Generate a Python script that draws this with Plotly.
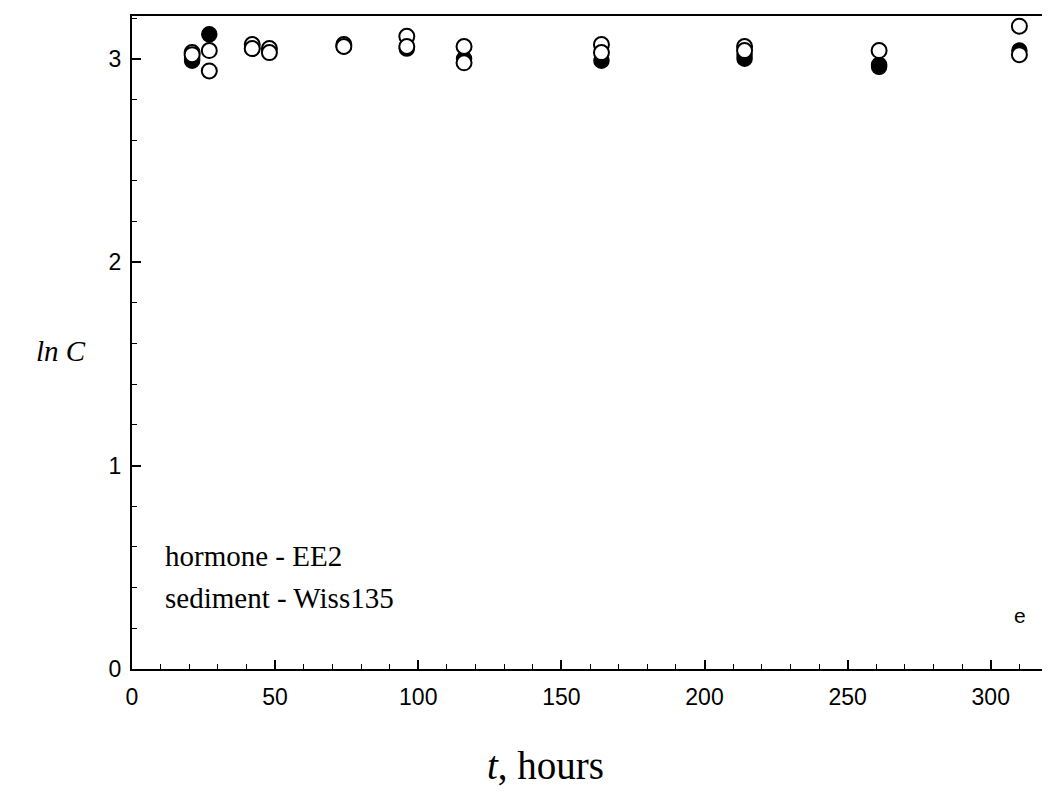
import plotly.graph_objects as go

# Data (hours, ln C)
time_filled = [21, 21, 27, 42, 74, 96, 116, 164, 214, 214, 261, 261, 310]
lnC_filled = [2.99, 3.00, 3.12, 3.05, 3.06, 3.05, 3.00, 2.99, 3.00, 3.02, 2.97, 2.96, 3.04]

time_open = [21, 21, 27, 27, 42, 42, 48, 48, 74, 74, 96, 96, 116, 116, 164, 164, 214, 214, 261, 310, 310]
lnC_open = [3.03, 3.02, 3.04, 2.94, 3.07, 3.05, 3.05, 3.03, 3.07, 3.06, 3.11, 3.06, 3.06, 2.98, 3.07, 3.03, 3.06, 3.04, 3.04, 3.16, 3.02]

x_ticks = [0, 50, 100, 150, 200, 250, 300]
y_ticks = [0, 1, 2, 3]

fig = go.Figure()
fig.add_trace(go.Scatter(x=time_filled, y=lnC_filled, mode="markers",
                         marker=dict(symbol="circle", size=15, color="black",
                                     line=dict(color="black", width=1.5)),
                         showlegend=False))
fig.add_trace(go.Scatter(x=time_open, y=lnC_open, mode="markers",
                         marker=dict(symbol="circle", size=15, color="white",
                                     line=dict(color="black", width=2)),
                         showlegend=False))

tickfont = dict(family="Liberation Sans, Arial", size=23, color="black")
serif = "Liberation Serif, Times New Roman"
fig.update_layout(
    width=1050, height=801,
    margin=dict(l=124, r=10, t=6, b=140),
    paper_bgcolor="white", plot_bgcolor="white",
    xaxis=dict(range=[0, 320], tickvals=x_ticks, ticks="inside", ticklen=9, tickwidth=1.5,
               tickcolor="black", showline=True, linecolor="black", linewidth=2,
               mirror=True, showgrid=False, zeroline=False, tickfont=tickfont,
               ticklabelstandoff=6,
               minor=dict(dtick=10, ticks="inside", ticklen=5, tickwidth=1.2, tickcolor="black", showgrid=False)),
    yaxis=dict(range=[0, 3.21], tickvals=y_ticks, ticks="inside", ticklen=9, tickwidth=1.5,
               tickcolor="black", showline=True, linecolor="black", linewidth=2,
               mirror=False, showgrid=False, zeroline=False, tickfont=tickfont,
               ticklabelstandoff=4,
               minor=dict(dtick=0.2, ticks="inside", ticklen=5, tickwidth=1.2, tickcolor="black", showgrid=False)),
    annotations=[
        dict(text="hormone - EE2", xref="paper", yref="paper",
             x=0.034, y=0.1725, xanchor="left", yanchor="middle", showarrow=False, align="left",
             font=dict(family=serif, size=29, color="black")),
        dict(text="sediment - Wiss135", xref="paper", yref="paper",
             x=0.034, y=0.108, xanchor="left", yanchor="middle", showarrow=False, align="left",
             font=dict(family=serif, size=29, color="black")),
        dict(text="e", xref="paper", yref="paper", x=0.969, y=0.082, xanchor="center", yanchor="middle",
             showarrow=False, font=dict(family="Liberation Sans, Arial", size=21, color="black")),
        dict(text="<i>ln C</i>", xref="paper", yref="paper", x=-0.077, y=0.487,
             xanchor="center", yanchor="middle", showarrow=False,
             font=dict(family=serif, size=29, color="black")),
        dict(text="<i>t</i>, hours", xref="paper", yref="paper", x=0.451, y=-0.148,
             xanchor="center", yanchor="middle", showarrow=False,
             font=dict(family=serif, size=39, color="black")),
    ],
)

fig.write_html("out.html")
